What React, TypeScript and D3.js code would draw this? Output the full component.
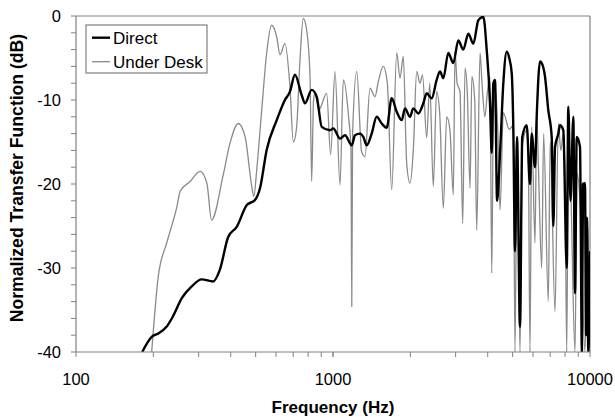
import React from "react";
import * as d3 from "d3";

const xTickValues = [100, 1000, 10000];
const yTickValues = [-40, -30, -20, -10, 0];
const seriesNames = ["Direct", "Under Desk"];

const directData: [number, number][] = [
  [181, -40], [197, -38.2], [209, -37.8], [225, -37.0], [238, -35.8], [258, -33.6], [282, -32.2], [308, -31.35], [342, -31.6],
  [363, -30.2], [391, -26.3], [422, -25.1], [462, -22.5], [497, -21.9], [520, -20.5], [552, -15.95],
  [604, -12.4], [650, -10.0], [680, -9.0], [711, -7.0], [755, -9.4], [778, -10.4], [826, -8.8],
  [864, -9.6], [904, -13.2], [973, -13.6], [1003, -13.4], [1065, -14.6], [1114, -14.2], [1183, -15.4],
  [1218, -14.2], [1274, -14.0], [1312, -14.4], [1353, -15.4], [1414, -14.0], [1479, -12.0], [1547, -12.8],
  [1618, -13.3], [1692, -9.8], [1770, -11.4], [1851, -12.4], [1906, -11.0], [1993, -12.0], [2053, -11.0],
  [2147, -11.6], [2246, -10.4], [2315, -9.2], [2421, -9.8], [2532, -7.6], [2608, -6.6], [2687, -7.4],
  [2810, -4.4], [2939, -5.6], [3073, -2.9], [3214, -4.0], [3362, -2.1], [3515, -3.3], [3677, -0.5],
  [3845, -0.1], [3963, -4.0], [4083, -10.4], [4146, -16.3], [4206, -8.0], [4271, -7.6], [4350, -22],
  [4467, -16.3], [4600, -8], [4742, -4.25], [4850, -5.0], [4959, -6.8], [5030, -13.2], [5107, -28],
  [5200, -14.4], [5341, -37], [5450, -14.4], [5672, -13.0], [5841, -20], [5931, -14.0], [6109, -18],
  [6203, -12.0], [6389, -5.4], [6488, -5.6], [6682, -7.2], [6882, -11.2], [7096, -14.4], [7200, -25],
  [7309, -15.6], [7530, -14], [7644, -13.0], [7873, -13.6], [8117, -30], [8235, -10.8], [8400, -22],
  [8612, -12.0], [8744, -33], [8878, -14.4], [9143, -15.6], [9300, -40], [9392, -20], [9561, -19.9],
  [9650, -38], [9734, -24], [9850, -40], [10000, -28],
];

const underDeskData: [number, number][] = [
  [197, -40], [209, -31.0], [225, -27.1], [232, -25.7], [247, -22.7], [254, -20.9], [278, -19.7],
  [304, -18.5], [323, -19.9], [337, -24.3], [374, -18.9], [397, -15.2], [428, -12.8], [455, -14.4],
  [483, -20.3], [492, -21.5], [505, -18.3], [528, -11.2], [552, -4.4], [577, -1.1], [604, -2.5],
  [622, -4.6], [650, -3.25], [680, -8.4], [701, -15.0], [722, -13.2], [744, -5.2], [766, -0.3],
  [790, -1.7], [814, -7.2], [826, -19.7], [840, -10], [851, -9.2], [880, -11.2], [945, -9.2],
  [979, -16.5], [1018, -6.6], [1065, -20.1], [1097, -7.6], [1150, -12], [1175, -16], [1183, -34.6],
  [1192, -14], [1237, -6.6], [1293, -16.2], [1332, -16.75], [1393, -8.6], [1457, -9.6], [1501, -7.8],
  [1569, -6.0], [1627, -8.0], [1692, -20.7], [1770, -4.4], [1823, -7.4], [1877, -4.8], [1935, -17.5],
  [1993, -19.9], [2053, -16.0], [2117, -6.6], [2180, -8.0], [2230, -7.0], [2315, -14.5], [2380, -8.0],
  [2456, -20.3], [2530, -9.0], [2600, -11.5], [2687, -22.9], [2770, -12.0], [2850, -13.5], [2939, -21.3],
  [2984, -4.25], [3040, -8.0], [3120, -9.0], [3197, -24.7], [3264, -6.2], [3330, -9.0], [3413, -20.5],
  [3470, -7.2], [3560, -10.0], [3624, -25.5], [3733, -4.4], [3800, -8.0], [3900, -12.0], [3990, -9.0],
  [4083, -7.2], [4146, -30.6], [4206, -12.0], [4300, -9.0], [4380, -14.0], [4467, -23.1], [4600, -11.5],
  [4850, -13.5], [5030, -13.0], [5107, -40], [5200, -15.0], [5341, -40], [5450, -15.6], [5672, -13.6],
  [5760, -18], [5841, -40], [5931, -13.2], [6109, -27], [6203, -11.8], [6300, -18], [6488, -30],
  [6600, -14], [6882, -34], [7000, -15], [7309, -35.2], [7530, -12.8], [7700, -16], [7873, -14],
  [8000, -20], [8117, -40], [8235, -16.3], [8400, -20], [8744, -40], [8900, -18.7], [9143, -22],
  [9561, -40], [9800, -25], [10000, -40],
];

const FONT = "'Liberation Sans', Arial, Helvetica, sans-serif";

export default function App() {
  const W = 615, H = 418;
  const left = 76, right = 590, top = 16, bottom = 352;
  const x = d3.scaleLog().domain([100, 10000]).range([left, right]);
  const y = d3.scaleLinear().domain([-40, 0]).range([bottom, top]);
  const line = d3
    .line<[number, number]>()
    .x((d) => x(d[0]))
    .y((d) => y(d[1]))
    .curve(d3.curveMonotoneX);

  const yMinor = d3.range(-40, 0.001, 2);
  const xMinor: number[] = [];
  for (const dec of [100, 1000]) for (let k = 1; k <= 10; k++) xMinor.push(dec * k);

  const axisColor = "#808080";

  return (
    <svg width={W} height={H} style={{ position: "absolute", left: 0, top: 0 }}>
      <rect x={0} y={0} width={W} height={H} fill="#fff" />
      <defs>
        <clipPath id="plot">
          <rect x={left} y={top} width={right - left} height={bottom - top} />
        </clipPath>
      </defs>
      <line x1={left} x2={right} y1={top} y2={top} stroke={axisColor} strokeWidth={1.2} />
      <line x1={right} x2={right} y1={top} y2={bottom} stroke={axisColor} strokeWidth={1.2} />
      <g clipPath="url(#plot)">
        <path d={line(underDeskData) || ""} fill="none" stroke="#8a8a8a" strokeWidth={1.3} strokeLinejoin="round" />
        <path d={line(directData) || ""} fill="none" stroke="#000" strokeWidth={2.4} strokeLinejoin="round" />
      </g>
      <line x1={left} x2={left} y1={top} y2={bottom} stroke={axisColor} strokeWidth={1.2} />
      <line x1={left} x2={right} y1={bottom} y2={bottom} stroke={axisColor} strokeWidth={1.2} />
      {yMinor.map((v) => (
        <line key={"ym" + v} x1={left - 5} x2={left} y1={y(v)} y2={y(v)} stroke={axisColor} strokeWidth={1} />
      ))}
      {xMinor.map((v) => (
        <line key={"xm" + v} x1={x(v)} x2={x(v)} y1={bottom} y2={bottom + 5} stroke={axisColor} strokeWidth={1} />
      ))}
      {yTickValues.map((v) => (
        <text key={"yl" + v} x={61} y={y(v) + 6} textAnchor="end" fontFamily={FONT} fontSize={16.5} fill="#000">
          {v}
        </text>
      ))}
      {xTickValues.map((v) => (
        <text key={"xl" + v} x={x(v)} y={384.5} textAnchor="middle" fontFamily={FONT} fontSize={16.5} fill="#000">
          {v}
        </text>
      ))}
      <text x={333} y={413} textAnchor="middle" fontFamily={FONT} fontSize={17} fontWeight="bold" fill="#000">
        Frequency (Hz)
      </text>
      <text
        transform={`translate(23,178) rotate(-90)`}
        textAnchor="middle"
        fontFamily={FONT}
        fontSize={17.6}
        fontWeight="bold"
        fill="#000"
      >
        Normalized Transfer Function (dB)
      </text>
      <rect x={86} y={25} width={121} height={48} fill="#fff" stroke={axisColor} strokeWidth={1.2} />
      <line x1={92} x2={110} y1={37.7} y2={37.7} stroke="#000" strokeWidth={2.4} />
      <text x={113} y={44.3} fontFamily={FONT} fontSize={17} fill="#000">
        {seriesNames[0]}
      </text>
      <line x1={92} x2={110} y1={61.7} y2={61.7} stroke="#8a8a8a" strokeWidth={1.3} />
      <text x={113} y={68.3} fontFamily={FONT} fontSize={17} fill="#000">
        {seriesNames[1]}
      </text>
    </svg>
  );
}
